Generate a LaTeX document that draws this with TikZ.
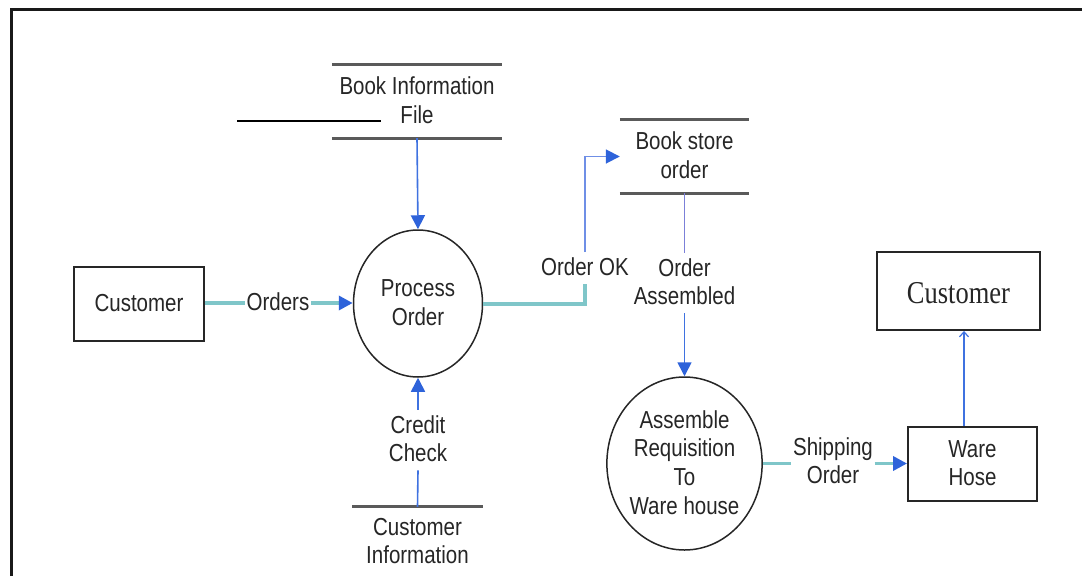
\documentclass[tikz,border=0pt]{standalone}
\usepackage{fontspec}
\usepackage{graphicx}
\setmainfont{Liberation Sans}
\newfontfamily\custserif{Liberation Serif}
\usetikzlibrary{shapes.geometric,arrows.meta}

% text is set a little taller than wide, and sits slightly low in its node
\newcommand\vt[1]{\raisebox{-2pt}[\height][\depth]{\scalebox{1}[1.2]{\begin{tabular}{@{}c@{}}#1\end{tabular}}}}

\definecolor{flowteal}{HTML}{7FC6C9}
\definecolor{flowblue}{HTML}{2E63DA}
\definecolor{linkblue}{HTML}{3F72E0}
\definecolor{okblue}{HTML}{6F8FE6}
\definecolor{lavblue}{HTML}{7B80D8}
\definecolor{storegray}{HTML}{5A5A5A}
\definecolor{ink}{HTML}{262626}

\tikzset{
  every node/.style={text=ink, font=\fontsize{20.5}{23.8}\selectfont},
  entity/.style={rectangle, draw=black!85, line width=1.9pt, inner sep=0pt},
  proc/.style={ellipse, draw=black!85, line width=1.5pt, inner sep=0pt},
  store/.style={rectangle, inner sep=0pt},
  storeline/.style={draw=storegray, line width=2.8pt},
  lbl/.style={fill=white, inner sep=1.5pt},
  tealflow/.style={draw=flowteal, line width=3.4pt},
  blueflow/.style={draw=linkblue, line width=1.6pt},
  okflow/.style={draw=okblue, line width=1.8pt},
  lavflow/.style={draw=lavblue, line width=1.5pt},
  solidtip/.style={-{Triangle[length=14pt,width=14pt,color=flowblue]}},
  opentip/.style={-{Straight Barb[length=5pt,width=9pt,line width=1.2pt]}}
}

\begin{document}
\begin{tikzpicture}[x=1pt,y=-1pt]
\useasboundingbox (0,0) rectangle (1082,576);

% page frame
\draw[line width=3pt, black!90] (11,576) -- (11,9) -- (1082,9);

% data stores
\node[store, minimum width=170, minimum height=73] (bif) at (417,101.5) {\vt{Book Information\\File}};
\draw[storeline] (bif.north west) -- (bif.north east);
\draw[storeline] (bif.south west) -- (bif.south east);
\draw[line width=1.5pt] (237,121) -- (381,121);

\node[store, minimum width=129, minimum height=73] (bso) at (684.5,156.5) {\vt{Book store\\order}};
\draw[storeline] (bso.north west) -- (bso.north east);
\draw[storeline] (bso.south west) -- (bso.south east);

\node[store, minimum width=130, minimum height=70] (cin) at (417.5,542) {\vt{Customer\\Information}};
\draw[storeline] (cin.north west) -- (cin.north east);

% processes
\node[proc, minimum width=129, minimum height=147] (po) at (418,303.5) {\vt{Process\\Order}};
\node[proc, minimum width=151, minimum height=173] (ar) at (684.5,463.5) {\vt{Assemble\\Requisition\\To\\Ware house}};

% external entities
\node[entity, minimum width=130, minimum height=74] (cl) at (139,304) {\vt{Customer}};
\node[entity, minimum width=129, minimum height=74] (wh) at (972.5,464) {\vt{Ware\\Hose}};
\node[entity, minimum width=163, minimum height=78] (cr) at (958.5,291)
  {\raisebox{-2pt}[\height][\depth]{\scalebox{1}[1.2]{\custserif\fontsize{26.5}{30}\selectfont Customer}}};

% flow labels
\node[lbl] (lor) at (278,303) {\vt{Orders}};
\node[lbl] (lok) at (585,268) {\vt{Order OK}};
\node[lbl] (loa) at (684.5,283) {\vt{Order\\Assembled}};
\node[lbl] (lcc) at (418,440) {\vt{Credit\\Check}};
\node[lbl] (lso) at (833,462) {\vt{Shipping\\Order}};
\coordinate (okc) at (585,304);

% flows
\draw[blueflow, solidtip] (bif.south) -- (po.north);

\draw[tealflow] (cl.east |- lor) -- (lor.west);
\draw[tealflow, solidtip] (lor.east) -- (po.west |- lor);

\draw[blueflow] (cin.north) -- (lcc.south);
\draw[blueflow, solidtip] (lcc.north) -- (po.south);

\draw[tealflow] (po.east |- okc) -- (okc) -- (lok.south);
\draw[okflow, solidtip] (lok.north) |- (bso.west);

\draw[lavflow] (bso.south) -- (loa.north);
\draw[blueflow, solidtip] (loa.south) -- (ar.north);

\draw[tealflow] (ar.east |- ar.center) -- (lso.west |- ar.center);
\draw[tealflow, solidtip] (lso.east |- ar.center) -- (wh.west |- ar.center);

\draw[blueflow, opentip] ([xshift=-8.5pt]wh.north) -- ([xshift=-8.5pt]wh.north |- cr.south);
\end{tikzpicture}
\end{document}
